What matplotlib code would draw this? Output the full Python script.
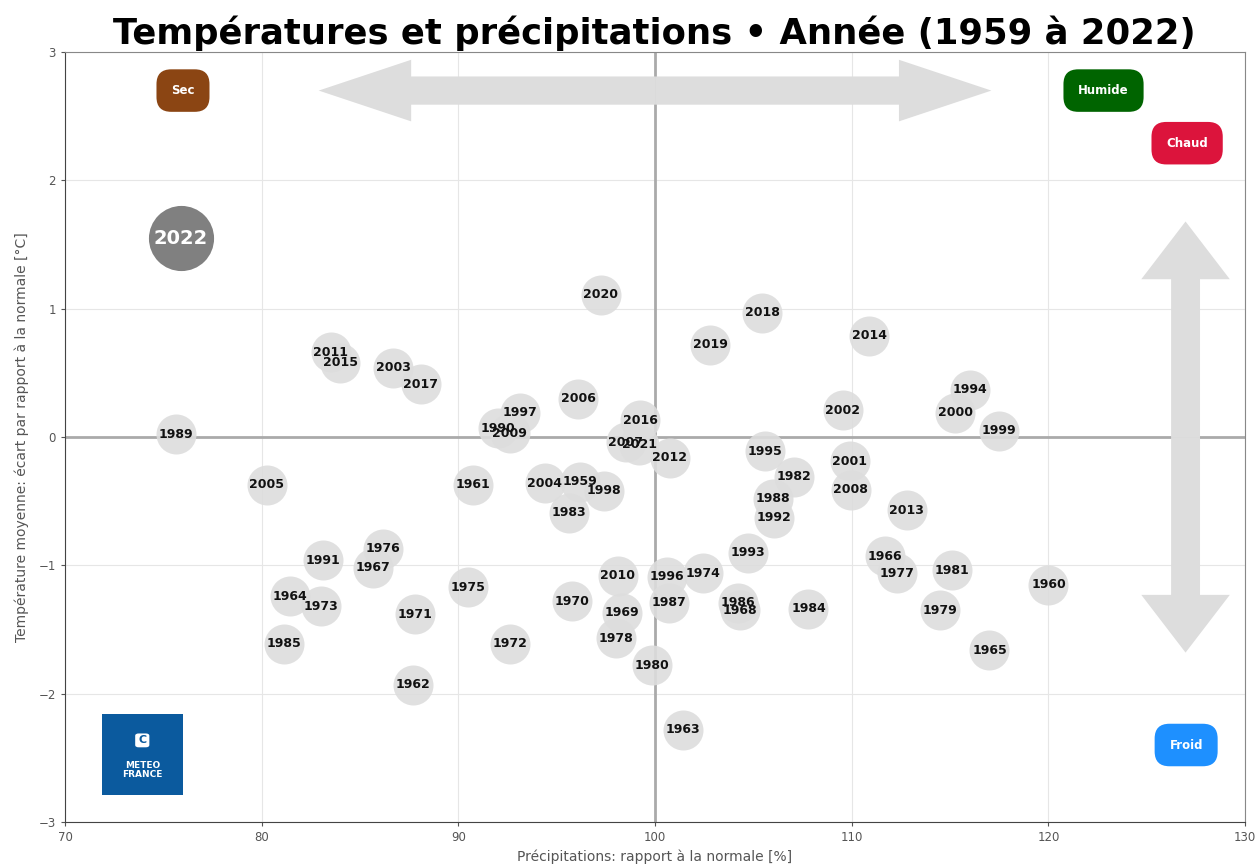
import numpy as np
import matplotlib
matplotlib.use("Agg")
import matplotlib.pyplot as plt
import matplotlib.patches as mpatches

# annees, precipitations (% normale), ecart de temperature (degC)
years = [2020, 2018, 2014, 2019, 2011, 2015, 2003, 2017, 1994, 2006,
         2002, 2000, 1997, 2016, 1990, 2009, 1999, 1989, 2007, 2021,
         2012, 1995, 2001, 2005, 1961, 2004, 1959, 1998, 1982, 1988,
         2008, 2013, 1992, 1983, 1976, 1991, 1967, 1966, 1993, 1977,
         1981, 1960, 2010, 1996, 1974, 1964, 1975, 1973, 1970, 1987,
         1986, 1968, 1984, 1979, 1971, 1969, 1972, 1978, 1985, 1965,
         1980, 1962, 1963]
precip = [97.25, 105.45, 110.9, 102.8, 83.5, 84.0, 86.7, 88.1, 116.0, 96.1,
          109.55, 115.25, 93.15, 99.25, 92.0, 92.6, 117.5, 75.65, 98.5, 99.2,
          100.75, 105.6, 109.9, 80.25, 90.75, 94.4, 96.2, 97.4, 107.05, 106.0,
          109.95, 112.8, 106.05, 95.6, 86.15, 83.1, 85.65, 111.7, 104.7, 112.3,
          115.1, 120.0, 98.1, 100.6, 102.45, 81.45, 90.5, 83.0, 95.8, 100.7,
          104.2, 104.3, 107.8, 114.5, 87.8, 98.3, 92.6, 98.0, 81.15, 117.0,
          99.85, 87.7, 101.4]
temp = [1.11, 0.97, 0.79, 0.72, 0.66, 0.58, 0.54, 0.41, 0.37, 0.30,
        0.21, 0.19, 0.19, 0.13, 0.07, 0.03, 0.05, 0.02, -0.04, -0.06,
        -0.16, -0.11, -0.19, -0.37, -0.37, -0.36, -0.35, -0.42, -0.31, -0.48,
        -0.41, -0.57, -0.63, -0.59, -0.87, -0.96, -1.02, -0.93, -0.90, -1.06,
        -1.04, -1.15, -1.08, -1.09, -1.06, -1.24, -1.17, -1.32, -1.28, -1.29,
        -1.29, -1.35, -1.34, -1.35, -1.38, -1.37, -1.61, -1.57, -1.61, -1.66,
        -1.78, -1.93, -2.28]

year_now = 2022
precip_now = 75.9
temp_now = 1.55

fig = plt.figure(figsize=(12.59, 8.68), dpi=100)
ax = fig.add_axes([0.0516, 0.053, 0.9374, 0.887])

ax.set_xlim(70, 130)
ax.set_ylim(-3, 3)
ax.set_xticks(np.arange(70, 131, 10))
ax.set_yticks(np.arange(-3, 4, 1))
ax.grid(True, color="#e6e6e6", lw=0.8)
ax.set_axisbelow(True)
ax.tick_params(labelsize=8.5, colors="#555555", length=3)
for s in ax.spines.values():
    s.set_color("#888888")
ax.spines["left"].set_color("#444444")
ax.spines["bottom"].set_color("#444444")

ax.axvline(100, color="#aaaaaa", lw=2, zorder=1)
ax.axhline(0, color="#aaaaaa", lw=2, zorder=1)

# double fleches
arrow_col = "#dddddd"
for d in (1, -1):
    ax.add_patch(mpatches.FancyArrow(100, 2.7, d * 17.1, 0, width=0.22,
                                     head_width=0.48, head_length=4.7,
                                     length_includes_head=True,
                                     color=arrow_col, lw=0, zorder=1))
    ax.add_patch(mpatches.FancyArrow(126.97, 0, 0, d * 1.68, width=1.47,
                                     head_width=4.5, head_length=0.45,
                                     length_includes_head=True,
                                     color=arrow_col, lw=0, zorder=1))

ax.scatter(precip, temp, s=830, color="#dddddd", alpha=0.9, lw=0, zorder=2)
for yr, px, ty in zip(years, precip, temp):
    ax.text(px, ty, str(yr), ha="center", va="center", fontsize=9,
            fontweight="bold", color="#111111", zorder=3)

ax.scatter([precip_now], [temp_now], s=2200, color="#808080", lw=0, zorder=2)
ax.text(precip_now, temp_now, str(year_now), ha="center", va="center",
        fontsize=14, fontweight="bold", color="white", zorder=3)

# etiquettes des quadrants
tags = [("Sec", 76.0, 2.7, "#8b4513"),
        ("Humide", 122.8, 2.7, "#006400"),
        ("Chaud", 127.05, 2.29, "#dc143c"),
        ("Froid", 127.0, -2.4, "#1e90ff")]
for lab, tx, ty, c in tags:
    ax.text(tx, ty, lab, ha="center", va="center", fontsize=8.5,
            fontweight="bold", color="white", zorder=4,
            bbox=dict(boxstyle="round,pad=1.25", fc=c, ec="none"))

# logo
ax.add_patch(mpatches.Rectangle((0.031, 0.035), 0.069, 0.105,
                                transform=ax.transAxes, fc="#0b5a9e",
                                ec="none", zorder=4))
ax.add_patch(mpatches.FancyBboxPatch((0.0625, 0.1), 0.006, 0.012,
                                     boxstyle="round,pad=0.003",
                                     transform=ax.transAxes, fc="white",
                                     ec="none", zorder=5))
ax.text(0.0655, 0.106, "C", transform=ax.transAxes, ha="center",
        va="center", fontsize=8, fontweight="bold", color="#0b5a9e", zorder=6)
ax.text(0.0655, 0.068, "METEO\nFRANCE", transform=ax.transAxes,
        ha="center", va="center", fontsize=6.5, fontweight="bold",
        color="white", linespacing=1.0, zorder=5)

ax.set_xlabel("Précipitations: rapport à la normale [%]", fontsize=10,
              color="#555555", labelpad=4)
ax.set_ylabel("Température moyenne: écart par rapport à la normale [°C]",
              fontsize=10, color="#555555", labelpad=7)

fig.text(0.52, 0.962, "Températures et précipitations • Année (1959 à 2022)",
         ha="center", va="center", fontsize=25.5, fontweight="bold")

fig.savefig("out.png", dpi=100)
